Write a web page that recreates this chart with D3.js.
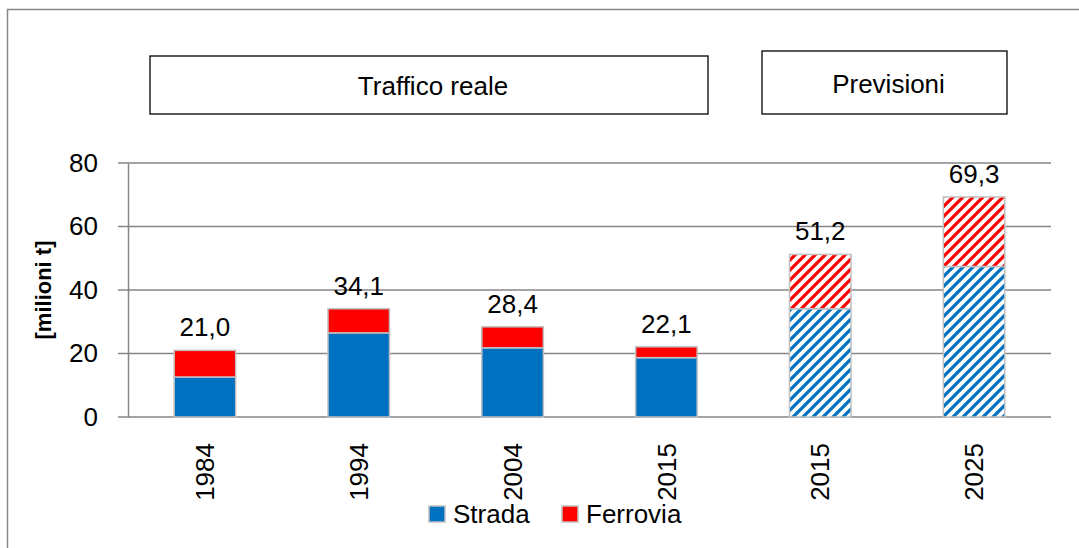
<!DOCTYPE html>
<html>
<head>
<meta charset="utf-8">
<script src="https://cdn.jsdelivr.net/npm/d3@7"></script>
<style>
  body { margin: 0; background: #fff; }
  svg { display: block; font-family: "Liberation Sans", Arial, sans-serif; }
</style>
</head>
<body>
<div id="chart"></div>
<script>
// data
var categories = ["1984", "1994", "2004", "2015", "2015 (prev)", "2025"];
var tickLabels = ["1984", "1994", "2004", "2015", "2015", "2025"];
var strada = [12.6, 26.5, 21.8, 18.7, 34.1, 47.4];
var totals = [21.0, 34.1, 28.4, 22.1, 51.2, 69.3];
var forecast = [false, false, false, false, true, true];
var seriesNames = ["Strada", "Ferrovia"];
var yTicks = [0, 20, 40, 60, 80];

var width = 1079, height = 548;
var margin = {left: 128, right: 28, top: 163, bottom: 131};
var fontSize = 26;

var colors = {Strada: "#0070c0", Ferrovia: "#ff0000"};

var svg = d3.select("#chart").append("svg")
    .attr("width", width)
    .attr("height", height);

// hatch patterns for the forecast bars
var hp = 10;
var defs = svg.append("defs");
seriesNames.forEach(function(s) {
  var p = defs.append("pattern")
      .attr("id", "hatch-" + s)
      .attr("patternUnits", "userSpaceOnUse")
      .attr("width", hp)
      .attr("height", hp);
  p.append("rect").attr("width", hp).attr("height", hp).attr("fill", "#fff");
  p.append("path")
      .attr("d", "M-2,2 L2,-2 M0," + hp + " L" + hp + ",0 M" + (hp - 2) + "," + (hp + 2) + " L" + (hp + 2) + "," + (hp - 2))
      .attr("stroke", colors[s])
      .attr("stroke-width", 3.3);
});

// outer frame
svg.append("rect")
    .attr("x", 7.5).attr("y", 9.5)
    .attr("width", width + 10).attr("height", height + 10)
    .attr("fill", "none")
    .attr("stroke", "#868686")
    .attr("stroke-width", 1.5);

// header boxes
var boxes = [
  {text: "Traffico reale", x0: 150, x1: 708, y0: 56, y1: 114, base: 95},
  {text: "Previsioni", x0: 762, x1: 1007, y0: 51, y1: 114, base: 93}
];
var bx = svg.append("g").selectAll("g").data(boxes).enter().append("g");
bx.append("rect")
    .attr("x", function(d) { return d.x0; })
    .attr("y", function(d) { return d.y0; })
    .attr("width", function(d) { return d.x1 - d.x0; })
    .attr("height", function(d) { return d.y1 - d.y0; })
    .attr("fill", "#fff")
    .attr("stroke", "#000")
    .attr("stroke-width", 1.3);
bx.append("text")
    .attr("x", function(d) { return (d.x0 + d.x1) / 2 + 4; })
    .attr("y", function(d) { return d.base; })
    .attr("text-anchor", "middle")
    .attr("font-size", fontSize)
    .text(function(d) { return d.text; });

var x = d3.scaleBand()
    .domain(categories)
    .range([margin.left, width - margin.right])
    .paddingInner(0.6)
    .paddingOuter(0.3);

var y = d3.scaleLinear()
    .domain([0, 80])
    .range([height - margin.bottom, margin.top]);

// gridlines
svg.append("g")
    .attr("class", "grid")
    .selectAll("line")
    .data(yTicks)
    .enter().append("line")
    .attr("x1", margin.left - 10)
    .attr("x2", width - margin.right)
    .attr("y1", function(d) { return y(d); })
    .attr("y2", function(d) { return y(d); })
    .attr("stroke", "#868686")
    .attr("stroke-width", 1.5);

// y axis
var yAxis = svg.append("g")
    .attr("transform", "translate(" + margin.left + ",0)")
    .call(d3.axisLeft(y).tickValues(yTicks).tickSize(0).tickPadding(30));
yAxis.select(".domain").attr("stroke", "#868686").attr("stroke-width", 1.5);
yAxis.selectAll("text").attr("font-size", fontSize).attr("fill", "#000")
    .attr("font-family", "Liberation Sans, Arial, sans-serif");

svg.append("text")
    .attr("transform", "translate(51," + y(40) + ") rotate(-90)")
    .attr("text-anchor", "middle")
    .attr("font-size", 22)
    .attr("font-weight", "bold")
    .text("[milioni t]");

// stacked bars
var rows = categories.map(function(c, i) {
  return {cat: c, Strada: strada[i], Ferrovia: totals[i] - strada[i], total: totals[i], forecast: forecast[i], tick: tickLabels[i]};
});
var stack = d3.stack().keys(seriesNames)(rows);

svg.append("g").selectAll("g")
    .data(stack)
    .enter().append("g")
    .selectAll("rect")
    .data(function(s) { return s.map(function(d) { d.key = s.key; return d; }); })
    .enter().append("rect")
    .attr("x", function(d) { return x(d.data.cat); })
    .attr("width", x.bandwidth())
    .attr("y", function(d) { return y(d[1]); })
    .attr("height", function(d) { return y(d[0]) - y(d[1]); })
    .attr("fill", function(d) { return d.data.forecast ? "url(#hatch-" + d.key + ")" : colors[d.key]; })
    .attr("stroke", "#c0c0c0")
    .attr("stroke-width", 1.5);

// total labels
svg.append("g").selectAll("text")
    .data(rows)
    .enter().append("text")
    .attr("x", function(d) { return x(d.cat) + x.bandwidth() / 2; })
    .attr("y", function(d) { return y(d.total) - 14; })
    .attr("text-anchor", "middle")
    .attr("font-size", fontSize)
    .text(function(d) { return d3.format(".1f")(d.total).replace(".", ","); });

// x tick labels
svg.append("g").selectAll("text")
    .data(rows)
    .enter().append("text")
    .attr("transform", function(d) {
      return "translate(" + (x(d.cat) + x.bandwidth() / 2) + "," + (y(0) + 26) + ") rotate(-90)";
    })
    .attr("text-anchor", "end")
    .attr("dy", "0.35em")
    .attr("font-size", fontSize)
    .text(function(d) { return d.tick; });

// legend
var legendX = [429, 562];
var legend = svg.append("g").selectAll("g")
    .data(seriesNames)
    .enter().append("g")
    .attr("transform", function(d, i) { return "translate(" + legendX[i] + ",506)"; });
legend.append("rect")
    .attr("width", 16).attr("height", 16)
    .attr("fill", function(d) { return colors[d]; })
    .attr("stroke", "#c0c0c0")
    .attr("stroke-width", 1.5);
legend.append("text")
    .attr("x", 24)
    .attr("y", 17)
    .attr("font-size", fontSize)
    .text(function(d) { return d; });
</script>
</body>
</html>
